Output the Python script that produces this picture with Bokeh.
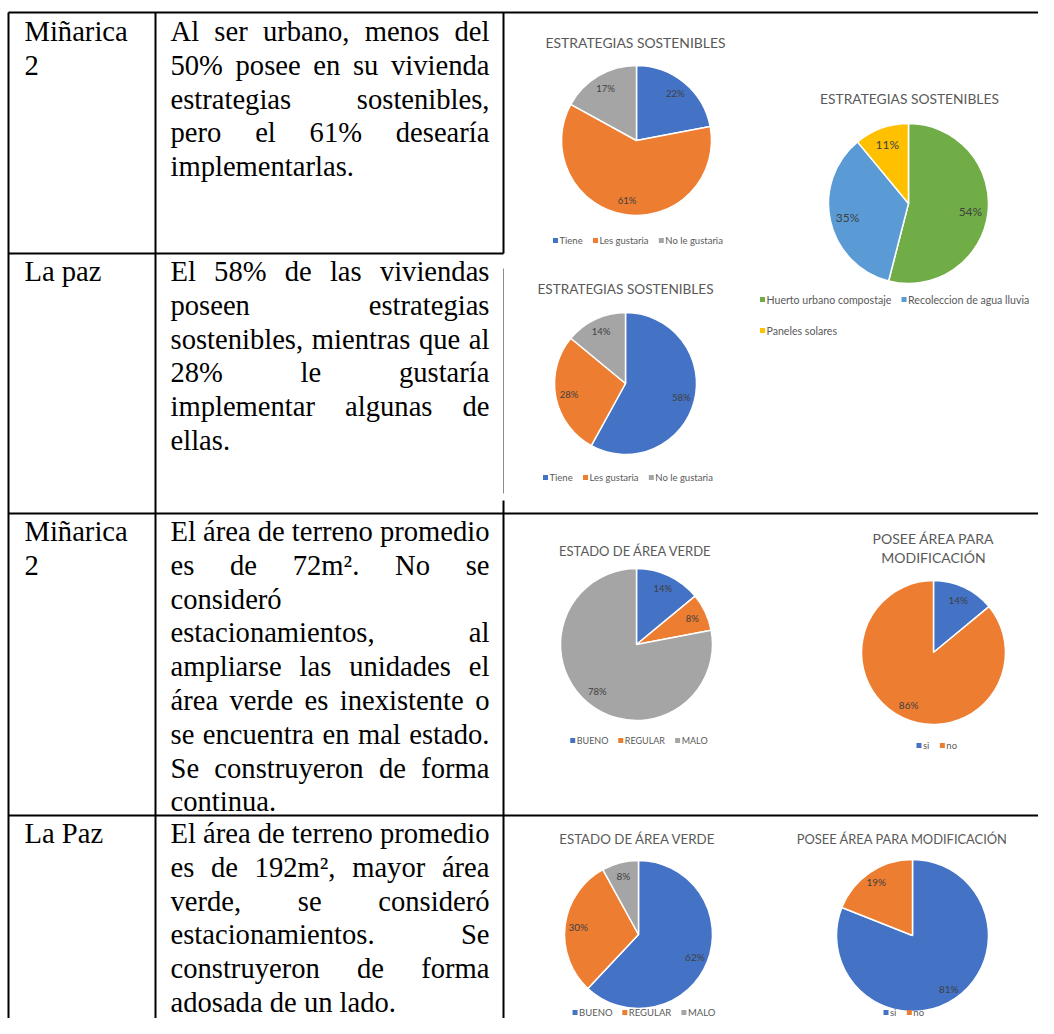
import math
from bokeh.plotting import figure
from bokeh.models import Range1d, ColumnDataSource
from bokeh.core.properties import value
from bokeh.embed import file_html
from bokeh.resources import INLINE

# ---------------- data ----------------
row_places = [["Miñarica", "2"], ["La paz"], ["Miñarica", "2"], ["La Paz"]]
row_texts = [
    ["Al ser urbano, menos del", "50% posee en su vivienda", "estrategias sostenibles,",
     "pero el 61% desearía", "implementarlas."],
    ["El 58% de las viviendas", "poseen estrategias", "sostenibles, mientras que al",
     "28% le gustaría", "implementar algunas de", "ellas."],
    ["El área de terreno promedio", "es de 72m². No se", "consideró", "estacionamientos, al",
     "ampliarse las unidades el", "área verde es inexistente o", "se encuentra en mal estado.",
     "Se construyeron de forma", "continua."],
    ["El área de terreno promedio", "es de 192m², mayor área", "verde, se consideró",
     "estacionamientos. Se", "construyeron de forma", "adosada de un lado."],
]

sost_cats = ["Tiene", "Les gustaria", "No le gustaria"]
sost_mi2 = [22, 61, 17]
sost_lapaz = [58, 28, 14]
tipo_cats = ["Huerto urbano compostaje", "Recoleccion de agua lluvia", "Paneles solares"]
tipo_vals = [54, 35, 11]
verde_cats = ["BUENO", "REGULAR", "MALO"]
verde_mi2 = [14, 8, 78]
verde_lapaz = [62, 30, 8]
mod_cats = ["si", "no"]
mod_mi2 = [14, 86]
mod_lapaz = [81, 19]

# ---------------- styles ----------------
BLUE, ORANGE, GRAY = "#4472C4", "#ED7D31", "#A5A5A5"
GREEN, LBLUE, YELLOW = "#70AD47", "#5B9BD5", "#FFC000"
SERIF = value("Liberation Serif")
SANS = value("Lato")
TXT_SIZE = 28.6
LINE_H = 33.8

TNR = {c: w for c, w in zip("abcdefghijklmnopqrstuvwxyz",
       [444, 500, 444, 500, 444, 333, 500, 500, 278, 278, 500, 278, 778, 500, 500, 500, 500,
        333, 389, 278, 500, 500, 722, 500, 500, 444])}
TNR.update({c: w for c, w in zip("ABCDEFGHIJKLMNOPQRSTUVWXYZ",
       [722, 667, 667, 722, 611, 556, 722, 722, 333, 389, 722, 611, 889, 722, 722, 556, 722,
        667, 556, 611, 722, 722, 944, 722, 722, 611])})
TNR.update({str(d): 500 for d in range(10)})
TNR.update({" ": 250, ",": 250, ".": 250, "%": 833, "²": 300, "á": 444, "é": 444,
            "í": 278, "ó": 500, "ñ": 500})

LATO = {c: w for c, w in zip("abcdefghijklmnopqrstuvwxyz",
        [.50, .56, .47, .56, .52, .32, .50, .56, .24, .24, .50, .24, .84, .56, .56, .56, .56,
         .37, .43, .35, .56, .51, .77, .50, .51, .46])}
LATO.update({c: w for c, w in zip("ABCDEFGHIJKLMNOPQRSTUVWXYZ",
        [.68, .64, .67, .74, .56, .54, .72, .75, .28, .40, .65, .49, .90, .75, .78, .59, .78,
         .63, .52, .58, .72, .66, .98, .65, .62, .60])})
LATO[" "] = .25


def tnr_w(s):
    return sum(TNR.get(c, 500) for c in s) / 1000 * TXT_SIZE


def lato_w(s, size):
    return sum(LATO.get(c, .55) for c in s) * size


# ---------------- figure (data units = picture pixels, y = -picture_y) ----------------
W, H = 1038, 1018
p = figure(width=W, height=H, x_range=Range1d(0, W), y_range=Range1d(-H, 0),
           output_backend="svg", toolbar_location=None, min_border=0,
           x_axis_location=None, y_axis_location=None)
p.grid.visible = False
p.outline_line_color = None
p.background_fill_color = "white"
p.border_fill_color = "white"

# ---------------- table grid ----------------
X_L, X_C1, X_C2, X_R = 8, 155, 503, 1060
Y_T, Y_R1, Y_R2, Y_R3, Y_B = 12, 253, 513, 815, 1040
h_lines = [(X_L, X_R, Y_T), (X_L, X_C2, Y_R1), (X_L, X_R, Y_R2), (X_L, X_R, Y_R3)]
v_lines = [(X_L, Y_T, Y_B), (X_C1, Y_T, Y_B), (X_C2, Y_T, Y_R1), (X_C2, 500, Y_B)]
p.segment(x0=[a for a, b, y in h_lines], x1=[b for a, b, y in h_lines],
          y0=[-y for a, b, y in h_lines], y1=[-y for a, b, y in h_lines],
          line_color="black", line_width=2)
p.segment(x0=[x for x, a, b in v_lines], x1=[x for x, a, b in v_lines],
          y0=[-a for x, a, b in v_lines], y1=[-b for x, a, b in v_lines],
          line_color="black", line_width=2)
p.segment(x0=[X_C2], x1=[X_C2], y0=[-268], y1=[-493], line_color="#8c8c8c", line_width=1)

# ---------------- table text ----------------
row_first_baseline = [31, 271, 531, 833]
TX0, TX1 = 170, 489
PX0 = 24
xs, ys, ts = [], [], []
for r, lines in enumerate(row_texts):
    y0 = row_first_baseline[r]
    for k, line in enumerate(row_places[r]):
        xs.append(PX0); ys.append(-(y0 + k * LINE_H)); ts.append(line)
    for k, line in enumerate(lines):
        y = y0 + k * LINE_H
        words = line.split(" ")
        if k == len(lines) - 1 or len(words) == 1:
            xs.append(TX0); ys.append(-y); ts.append(line)
            continue
        Wd = sum(tnr_w(w) for w in words)
        gap = (TX1 - TX0 - Wd) / (len(words) - 1)
        x = TX0
        for w in words:
            xs.append(x); ys.append(-y); ts.append(w)
            x += tnr_w(w) + gap
p.text(x=xs, y=ys, text=ts, text_font=SERIF, text_font_size=f"{TXT_SIZE}px",
       text_color="black", text_align="left", text_baseline="alphabetic")

# ---------------- pies ----------------
PIES = [
    dict(cats=sost_cats, vals=sost_mi2, colors=[BLUE, ORANGE, GRAY], cx=636, cy=140, r=75,
         title=["ESTRATEGIAS SOSTENIBLES"], tx=635, ty=[42], tsize=13.9, lsize=9.5, lr=0.81,
         rows=[[0, 1, 2]], leg_y=[240], leg_cx=637, leg_size=9.5),
    dict(cats=tipo_cats, vals=tipo_vals, colors=[GREEN, LBLUE, YELLOW], cx=908, cy=203, r=80,
         title=["ESTRATEGIAS SOSTENIBLES"], tx=909, ty=[98], tsize=13.8, lsize=12, lr=0.78,
         rows=[[0, 1], [2]], leg_y=[299, 330], leg_x0=760, leg_size=10.6),
    dict(cats=sost_cats, vals=sost_lapaz, colors=[BLUE, ORANGE, GRAY], cx=625, cy=383, r=71,
         title=["ESTRATEGIAS SOSTENIBLES"], tx=625, ty=[288], tsize=13.6, lsize=9.5, lr=0.81,
         rows=[[0, 1, 2]], leg_y=[477], leg_cx=627, leg_size=9.5),
    dict(cats=verde_cats, vals=verde_mi2, colors=[BLUE, ORANGE, GRAY], cx=636, cy=644, r=76,
         title=["ESTADO DE ÁREA VERDE"], tx=635, ty=[550], tsize=13.0, lsize=9.5, lr=0.81,
         rows=[[0, 1, 2]], leg_y=[740], leg_cx=638, leg_size=9),
    dict(cats=mod_cats, vals=mod_mi2, colors=[BLUE, ORANGE], cx=933, cy=652, r=72,
         title=["POSEE ÁREA PARA", "MODIFICACIÓN"], tx=933, ty=[538, 557], tsize=14,
         lsize=10, lr=0.81, rows=[[0, 1]], leg_y=[745], leg_cx=936, leg_size=9.5),
    dict(cats=verde_cats, vals=verde_lapaz, colors=[BLUE, ORANGE, GRAY], cx=638, cy=934, r=74,
         title=["ESTADO DE ÁREA VERDE"], tx=637, ty=[838], tsize=13.3, lsize=10, lr=0.82,
         rows=[[0, 1, 2]], leg_y=[1012], leg_cx=643, leg_size=9.5),
    dict(cats=mod_cats, vals=mod_lapaz, colors=[BLUE, ORANGE], cx=912, cy=935, r=76,
         title=["POSEE ÁREA PARA MODIFICACIÓN"], tx=902, ty=[838], tsize=12.9, lsize=10,
         lr=0.85, rows=[[0, 1]], leg_y=[1012], leg_cx=903, leg_size=9.5),
]

for pie in PIES:
    vals = pie["vals"]
    tot = float(sum(vals))
    starts, ends, cum = [], [], 0.0
    for v in vals:
        starts.append(math.pi / 2 - 2 * math.pi * cum / tot)
        cum += v
        ends.append(math.pi / 2 - 2 * math.pi * cum / tot)
    src = ColumnDataSource(dict(start=starts, end=ends, color=pie["colors"][:len(vals)],
                                cat=pie["cats"], val=vals))
    p.wedge(x=pie["cx"], y=-pie["cy"], radius=pie["r"], start_angle="start", end_angle="end",
            direction="clock", fill_color="color", line_color="white", line_width=1.5,
            source=src)
    # data labels
    mids = [(s + e) / 2 for s, e in zip(starts, ends)]
    lx = [pie["cx"] + pie["lr"] * pie["r"] * math.cos(m) for m in mids]
    ly = [-pie["cy"] + pie["lr"] * pie["r"] * math.sin(m) for m in mids]
    p.text(x=lx, y=ly, text=[f"{v}%" for v in vals], text_font=SANS,
           text_font_size=f"{pie['lsize']}px", text_color="#404040",
           text_align="center", text_baseline="middle")
    # title
    p.text(x=[pie["tx"]] * len(pie["title"]), y=[-t for t in pie["ty"]], text=pie["title"],
           text_font=SANS, text_font_size=f"{pie['tsize']}px", text_color="#595959",
           text_align="center", text_baseline="middle")
    # legend
    fs = pie["leg_size"]
    sq_x, sq_y, sq_c, lt_x, lt_y, lt_t = [], [], [], [], [], []
    for ri, row in enumerate(pie["rows"]):
        widths = [5 + lato_w(pie["cats"][i], fs) for i in row]
        total = sum(widths) + 12 * (len(row) - 1)
        x = pie["leg_x0"] if "leg_x0" in pie else pie["leg_cx"] - total / 2
        y = -pie["leg_y"][ri]
        for i, w in zip(row, widths):
            sq_x.append(x + 2); sq_y.append(y); sq_c.append(pie["colors"][i])
            lt_x.append(x + 6); lt_y.append(y); lt_t.append(pie["cats"][i])
            x += w + 12
    p.scatter(x=sq_x, y=sq_y, marker="square", size=5, fill_color=sq_c, line_color=None)
    p.text(x=lt_x, y=lt_y, text=lt_t, text_font=SANS, text_font_size=f"{fs}px",
           text_color="#595959", text_align="left", text_baseline="middle")

open("out.html", "w").write(file_html(p, INLINE))
